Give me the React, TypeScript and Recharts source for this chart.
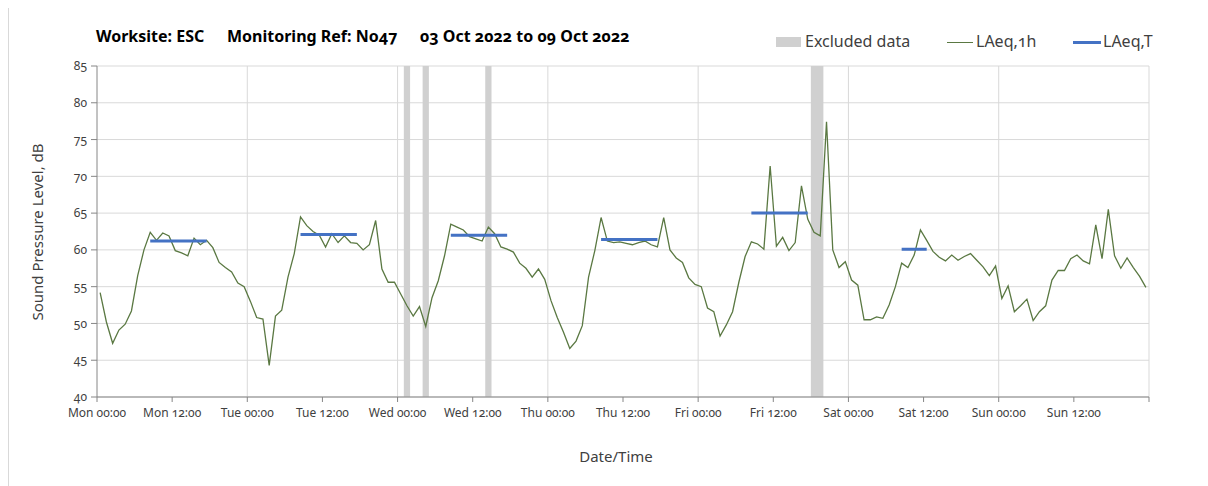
import React from 'react';
import {
  ComposedChart,
  Line,
  XAxis,
  YAxis,
  CartesianGrid,
  ReferenceArea,
  ReferenceLine,
} from 'recharts';

// Hourly LAeq,1h values, Mon 00:00 .. Sun 23:00 (168 hours)
const LAEQ_1H: number[] = [
  // Mon
  54.2, 50.2, 47.3, 49.1, 49.9, 51.7, 56.5, 60.0, 62.4, 61.3, 62.3, 61.9,
  59.9, 59.6, 59.2, 61.6, 60.7, 61.3, 60.3, 58.3, 57.6, 57.0, 55.5, 55.0,
  // Tue
  53.0, 50.8, 50.6, 44.3, 51.0, 51.8, 56.3, 59.5, 64.5, 63.3, 62.5, 62.0,
  60.4, 62.2, 61.0, 61.9, 61.0, 60.9, 60.0, 60.7, 64.0, 57.4, 55.6, 55.6,
  // Wed
  54.0, 52.4, 51.0, 52.3, 49.6, 53.5, 55.8, 59.2, 63.5, 63.1, 62.7, 61.8,
  61.5, 61.2, 63.1, 62.2, 60.4, 60.1, 59.7, 58.2, 57.5, 56.3, 57.4, 56.0,
  // Thu
  53.1, 50.8, 48.8, 46.6, 47.6, 49.7, 56.3, 59.9, 64.4, 61.2, 61.0, 61.1,
  60.9, 60.7, 61.0, 61.2, 60.7, 60.4, 64.4, 60.0, 58.9, 58.3, 56.2, 55.3,
  // Fri
  55.0, 52.1, 51.6, 48.3, 49.8, 51.6, 55.6, 59.1, 61.1, 60.8, 60.1, 71.4,
  60.5, 61.7, 59.9, 61.0, 68.7, 64.2, 62.4, 61.9, 77.4, 60.0, 57.6, 58.4,
  // Sat
  55.9, 55.2, 50.5, 50.5, 50.9, 50.7, 52.5, 55.0, 58.2, 57.6, 59.3, 62.7,
  61.3, 59.8, 59.0, 58.5, 59.3, 58.6, 59.1, 59.5, 58.6, 57.7, 56.5, 57.8,
  // Sun
  53.4, 55.1, 51.6, 52.4, 53.3, 50.4, 51.6, 52.4, 55.9, 57.2, 57.2, 58.8,
  59.3, 58.5, 58.1, 63.4, 58.8, 65.5, 59.2, 57.5, 58.9, 57.6, 56.4, 54.9,
];

// LAeq,T periods (hour index from .. to, inclusive) and level
const LAEQ_T_PERIODS = [
  { from: 8, to: 17, value: 61.2 },
  { from: 32, to: 41, value: 62.1 },
  { from: 56, to: 65, value: 62.0 },
  { from: 80, to: 89, value: 61.4 },
  { from: 104, to: 113, value: 65.0 },
  { from: 128, to: 132, value: 60.1 },
];

// Excluded data periods (hours from start)
const EXCLUDED_PERIODS: [number, number][] = [
  [49, 50],
  [52, 53],
  [62, 63],
  [114, 116],
];

const X_TICKS = [0, 12, 24, 36, 48, 60, 72, 84, 96, 108, 120, 132, 144, 156, 168];
const X_TICK_LABELS = [
  'Mon 00:00', 'Mon 12:00', 'Tue 00:00', 'Tue 12:00', 'Wed 00:00', 'Wed 12:00',
  'Thu 00:00', 'Thu 12:00', 'Fri 00:00', 'Fri 12:00', 'Sat 00:00', 'Sat 12:00',
  'Sun 00:00', 'Sun 12:00', '',
];
const DAY_LINES = [24, 48, 72, 96, 120, 144, 168];
const Y_TICKS = [40, 45, 50, 55, 60, 65, 70, 75, 80, 85];

const TITLE_PARTS = ['Worksite: ESC', 'Monitoring Ref: No47', '03 Oct 2022 to 09 Oct 2022'];
const TITLE_LEFTS = [87, 218, 411];

const rows = LAEQ_1H.map((v, i) => {
  const p = LAEQ_T_PERIODS.find((q) => i >= q.from && i <= q.to);
  return { t: i + 0.5, laeq1h: v, laeqT: p ? p.value : null };
});

const FONT = "'Noto Sans', 'Open Sans', sans-serif";
const GREEN = '#5a7842';

export default function App() {
  return (
    <div
      style={{
        position: 'relative',
        width: 1200,
        height: 478,
        fontFamily: FONT,
        fontVariantNumeric: 'oldstyle-nums',
        borderLeft: '1px solid #d9d9d9',
        boxSizing: 'border-box',
      }}
    >
      <ComposedChart
        width={1200}
        height={478}
        data={rows}
        margin={{ top: 58, right: 60, bottom: 0, left: -1 }}
      >
        <CartesianGrid vertical={false} stroke="#d9d9d9" strokeWidth={1} />
        {DAY_LINES.map((d) => (
          <ReferenceLine key={'d' + d} x={d} stroke="#d9d9d9" strokeWidth={1} />
        ))}
        {EXCLUDED_PERIODS.map(([a, b], i) => (
          <ReferenceArea
            key={'ex' + i}
            x1={a}
            x2={b}
            y1={40}
            y2={85}
            fill="#d0d0d0"
            fillOpacity={1}
            stroke="none"
          />
        ))}
        <XAxis
          dataKey="t"
          type="number"
          domain={[0, 168]}
          ticks={X_TICKS}
          tickFormatter={(v: number) => X_TICK_LABELS[X_TICKS.indexOf(v)] ?? ''}
          interval={0}
          height={89}
          tickSize={5}
          tickMargin={6}
          stroke="#868686"
          tick={{ fill: '#404040', fontSize: 12 }}
          allowDataOverflow
        />
        <YAxis
          type="number"
          domain={[40, 85]}
          ticks={Y_TICKS}
          width={89}
          tickSize={6}
          tickMargin={4}
          stroke="#868686"
          tick={{ fill: '#404040', fontSize: 12 }}
          interval={0}
        />
        <Line
          type="linear"
          dataKey="laeq1h"
          stroke={GREEN}
          strokeWidth={1.3}
          dot={false}
          isAnimationActive={false}
        />
        <Line
          type="linear"
          dataKey="laeqT"
          stroke="#4472c4"
          strokeWidth={3}
          dot={false}
          connectNulls={false}
          isAnimationActive={false}
        />
      </ComposedChart>

      {/* Title */}
      {TITLE_PARTS.map((s, i) => (
        <div
          key={'tp' + i}
          style={{
            position: 'absolute',
            left: TITLE_LEFTS[i],
            top: 17,
            fontSize: 16,
            fontWeight: 700,
            color: '#000',
            whiteSpace: 'pre',
          }}
        >
          {s}
        </div>
      ))}

      {/* Legend */}
      <div style={{ position: 'absolute', left: 767, top: 29, width: 25, height: 10, background: '#d0d0d0' }} />
      <div style={{ position: 'absolute', left: 796, top: 22, fontSize: 16, color: '#404040', whiteSpace: 'pre' }}>
        Excluded data
      </div>
      <div style={{ position: 'absolute', left: 938, top: 34, width: 26, height: 1.3, background: GREEN }} />
      <div style={{ position: 'absolute', left: 967, top: 22, fontSize: 16, color: '#404040', whiteSpace: 'pre' }}>
        LAeq,1h
      </div>
      <div style={{ position: 'absolute', left: 1064, top: 33, width: 28, height: 3, background: '#4472c4' }} />
      <div style={{ position: 'absolute', left: 1094, top: 22, fontSize: 16, color: '#404040', whiteSpace: 'pre' }}>
        LAeq,T
      </div>

      {/* Y axis title */}
      <div style={{ position: 'absolute', left: 28, top: 224, width: 0, height: 0 }}>
        <div
          style={{
            position: 'absolute',
            transform: 'translate(-50%, -50%) rotate(-90deg)',
            fontSize: 15,
            color: '#404040',
            whiteSpace: 'pre',
          }}
        >
          Sound Pressure Level, dB
        </div>
      </div>

      {/* X axis title */}
      <div
        style={{
          position: 'absolute',
          left: 607,
          top: 448,
          transform: 'translate(-50%, -50%)',
          fontSize: 15,
          color: '#404040',
          whiteSpace: 'pre',
        }}
      >
        Date/Time
      </div>
    </div>
  );
}
